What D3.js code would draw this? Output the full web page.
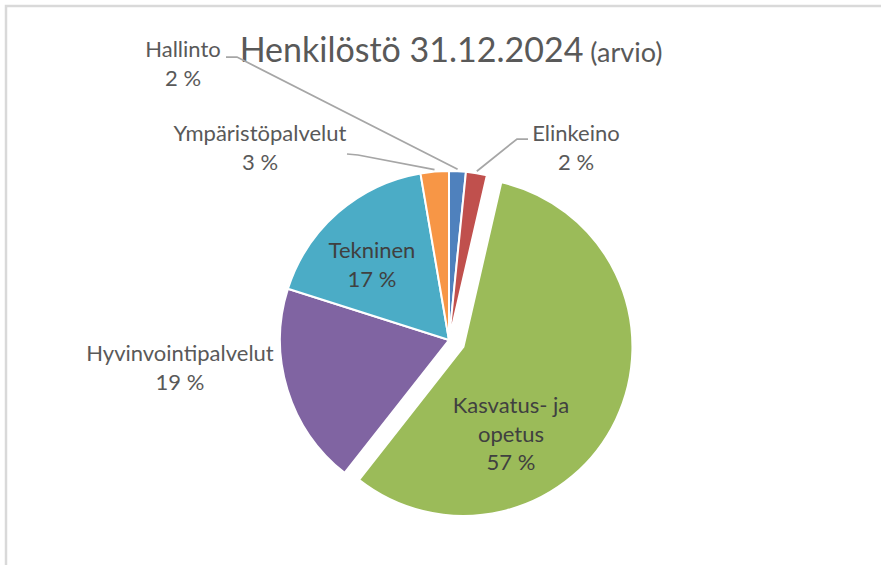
<!DOCTYPE html>
<html lang="fi">
<head>
<meta charset="UTF-8">
<title>Henkilöstö 31.12.2024</title>
<script src="https://d3js.org/d3.v7.min.js"></script>
<style>
    body { margin: 0; background: #fff; }
    svg text { font-family: Lato, "Open Sans", sans-serif; }
</style>
</head>
<body>
<div id="chart"></div>
<script>
// data (share of staff, %)
const categories = ["Hallinto", "Elinkeino", "Kasvatus- ja opetus", "Hyvinvointipalvelut", "Tekninen", "Ympäristöpalvelut"];
const shares = [1.6, 2.0, 57.0, 19.3, 17.4, 2.7];
const sliceColors = ["#4F81BD", "#C0504D", "#9BBB59", "#8064A2", "#4BACC6", "#F79646"];
const labelLines = [["Hallinto"], ["Elinkeino"], ["Kasvatus- ja", "opetus"], ["Hyvinvointipalvelut"], ["Tekninen"], ["Ympäristöpalvelut"]];

const width = 881, height = 565;
const cx = 449, cy = 340, radius = 169;
const explodeIndex = 2, explodeBy = 16;

// label placement (first baseline) and leader elbows for the outside ones
const labelPos = [
    {x: 183, y: 57, inside: false, elbow: [[226, 57], [237, 57]]},
    {x: 576, y: 141, inside: false, elbow: [[528, 139], [517, 139]]},
    {x: 511, y: 413, inside: true},
    {x: 180, y: 361, inside: false},
    {x: 372, y: 258, inside: true},
    {x: 260, y: 141, inside: false, elbow: [[347, 154], [358, 155]]}
];
const lineGap = 28.5;

const svg = d3.select("#chart").append("svg")
    .attr("width", width)
    .attr("height", height);

// chart area border (only left/top visible in the crop)
svg.append("rect")
    .attr("x", 6).attr("y", 6)
    .attr("width", width + 20).attr("height", height + 20)
    .attr("fill", "none")
    .attr("stroke", "#d9d9d9")
    .attr("stroke-width", 2.5);

const title = svg.append("text")
    .attr("x", 451).attr("y", 62)
    .attr("text-anchor", "middle")
    .attr("fill", "#595959");
title.append("tspan").attr("font-size", 34).text("Henkilöstö 31.12.2024");
title.append("tspan").attr("font-size", 27).text(" (arvio)");

const pie = d3.pie().sort(null).value(d => d);
const arcs = pie(shares);
const arc = d3.arc().innerRadius(0).outerRadius(radius);

const g = svg.append("g").attr("transform", `translate(${cx},${cy})`);

function offset(d, i) {
    if (i !== explodeIndex) return [0, 0];
    const a = (d.startAngle + d.endAngle) / 2;
    return [Math.sin(a) * explodeBy, -Math.cos(a) * explodeBy];
}

g.selectAll("path.slice")
    .data(arcs)
    .join("path")
    .attr("class", "slice")
    .attr("d", arc)
    .attr("transform", (d, i) => `translate(${offset(d, i)})`)
    .attr("fill", (d, i) => sliceColors[i])
    .attr("stroke", "#fff")
    .attr("stroke-width", 2);

// leader lines
arcs.forEach((d, i) => {
    const p = labelPos[i];
    if (!p.elbow) return;
    const a = (d.startAngle + d.endAngle) / 2;
    const tip = [cx + Math.sin(a) * (radius + 2), cy - Math.cos(a) * (radius + 2)];
    svg.append("polyline")
        .attr("points", [p.elbow[0], p.elbow[1], tip].map(q => q.join(",")).join(" "))
        .attr("fill", "none")
        .attr("stroke", "#a6a6a6")
        .attr("stroke-width", 1.75);
});

// labels
arcs.forEach((d, i) => {
    const p = labelPos[i];
    const lines = labelLines[i].concat([Math.round(shares[i]) + " %"]);
    const t = svg.append("text")
        .attr("text-anchor", "middle")
        .attr("font-size", 22)
        .attr("fill", p.inside ? "#404040" : "#595959");
    lines.forEach((s, k) => {
        t.append("tspan").attr("x", p.x).attr("y", p.y + k * lineGap).text(s);
    });
});
</script>
</body>
</html>
